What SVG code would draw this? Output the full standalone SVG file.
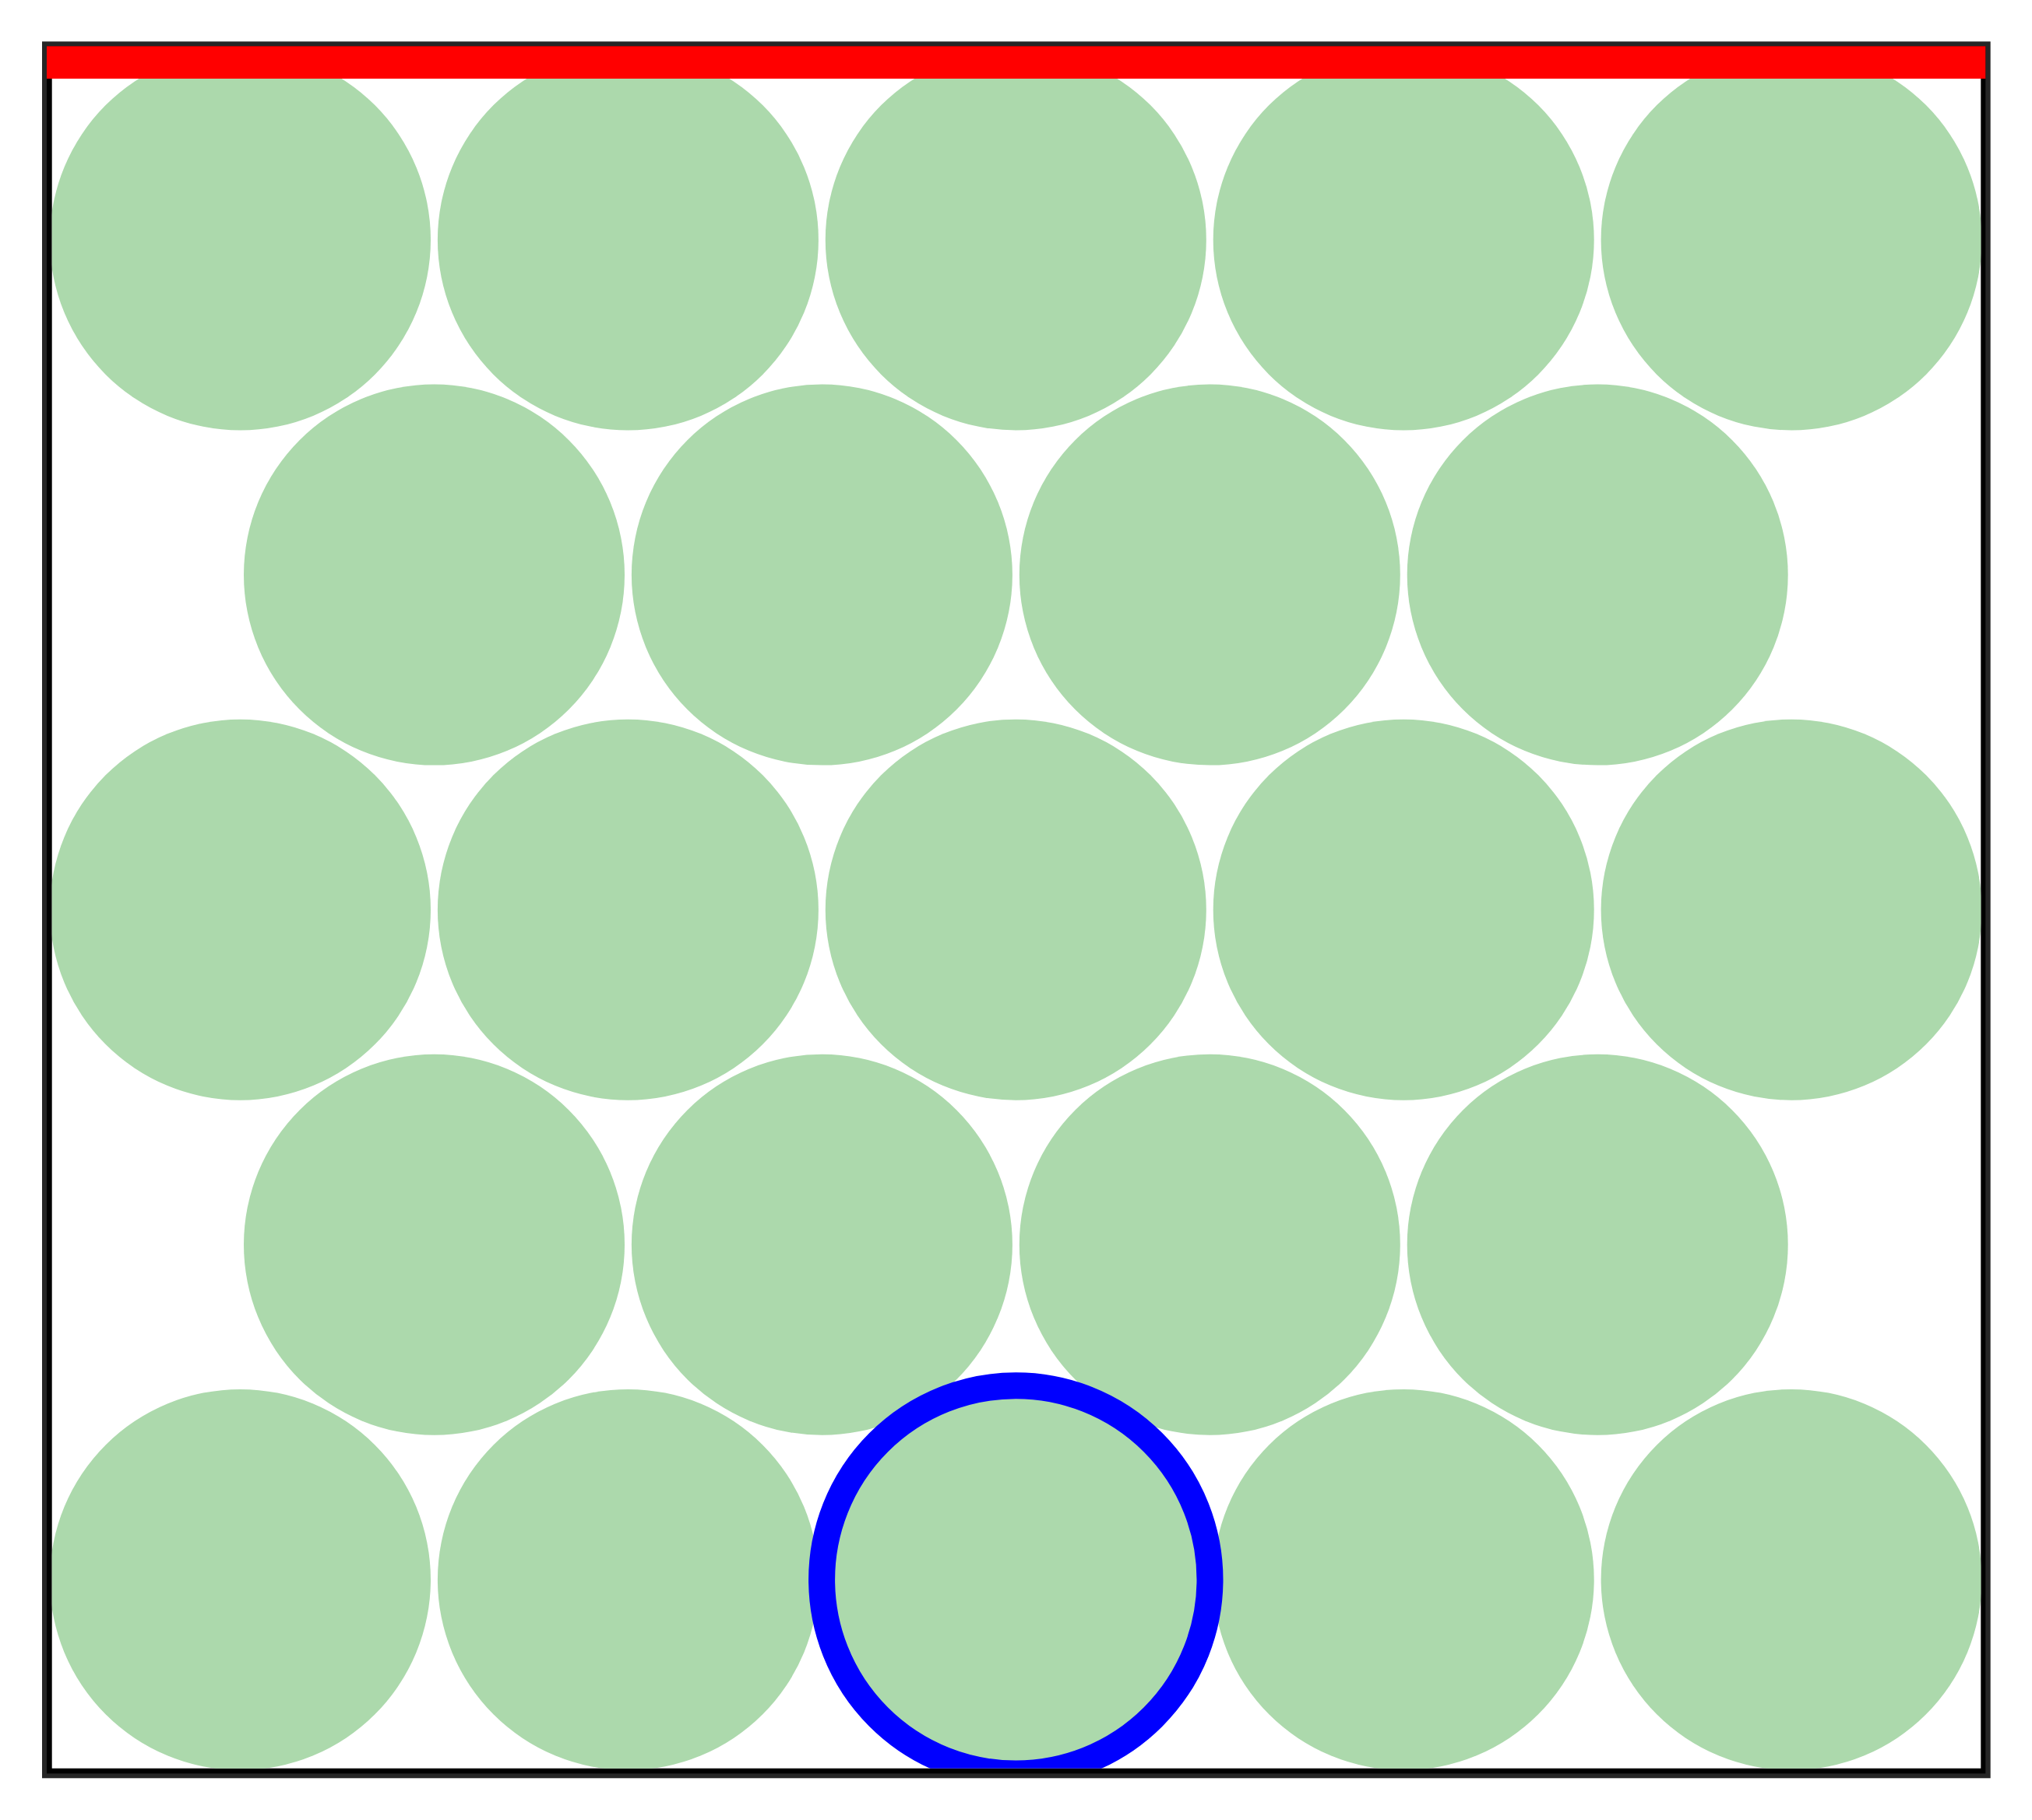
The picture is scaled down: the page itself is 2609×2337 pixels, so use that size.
<svg xmlns="http://www.w3.org/2000/svg" width="2609" height="2337" viewBox="0 0 2609 2337">
  <style>
    .p { fill: #acd9ac; }
    .sel { fill: none; stroke: #0000ff; stroke-width: 34; }
  </style>
  <defs>
    <clipPath id="box">
      <rect x="66.7" y="59.3" width="2476.6" height="2211.4"/>
    </clipPath>
  </defs>
  <rect width="2609" height="2337" fill="#ffffff"/>
  <g id="frame">
    <rect x="54" y="53.3" width="2501.7" height="2230" fill="#262626"/>
    <rect x="60" y="59.3" width="2489.3" height="2218" fill="#000000"/>
    <rect x="66.7" y="66" width="2476.6" height="2204.7" fill="#ffffff"/>
  </g>
  <g id="particles" clip-path="url(#box)">
    <g id="row1">
      <circle id="p1" class="p" cx="308.5" cy="308" r="244.5"/>
      <circle id="p2" class="p" cx="806.4" cy="308" r="244.5"/>
      <circle id="p3" class="p" cx="1304.3" cy="308" r="244.5"/>
      <circle id="p4" class="p" cx="1802.2" cy="308" r="244.5"/>
      <circle id="p5" class="p" cx="2300.1" cy="308" r="244.5"/>
    </g>
    <g id="row2">
      <circle id="p6" class="p" cx="557.5" cy="738.1" r="244.5"/>
      <circle id="p7" class="p" cx="1055.4" cy="738.1" r="244.5"/>
      <circle id="p8" class="p" cx="1553.3" cy="738.1" r="244.5"/>
      <circle id="p9" class="p" cx="2051.2" cy="738.1" r="244.5"/>
    </g>
    <g id="row3">
      <circle id="p10" class="p" cx="308.5" cy="1168.2" r="244.5"/>
      <circle id="p11" class="p" cx="806.4" cy="1168.2" r="244.5"/>
      <circle id="p12" class="p" cx="1304.3" cy="1168.2" r="244.5"/>
      <circle id="p13" class="p" cx="1802.2" cy="1168.2" r="244.5"/>
      <circle id="p14" class="p" cx="2300.1" cy="1168.2" r="244.5"/>
    </g>
    <g id="row4">
      <circle id="p15" class="p" cx="557.5" cy="1598.3" r="244.5"/>
      <circle id="p16" class="p" cx="1055.4" cy="1598.3" r="244.5"/>
      <circle id="p17" class="p" cx="1553.3" cy="1598.3" r="244.5"/>
      <circle id="p18" class="p" cx="2051.2" cy="1598.3" r="244.5"/>
    </g>
    <g id="row5">
      <circle id="p19" class="p" cx="308.5" cy="2028.4" r="244.5"/>
      <circle id="p20" class="p" cx="806.4" cy="2028.4" r="244.5"/>
      <circle id="p21" class="p" cx="1304.3" cy="2028.4" r="244.5"/>
      <circle id="p22" class="p" cx="1802.2" cy="2028.4" r="244.5"/>
      <circle id="p23" class="p" cx="2300.1" cy="2028.4" r="244.5"/>
    </g>
    <g id="selected">
      <circle class="sel" cx="1304.3" cy="2028.4" r="249.2"/>
    </g>
  </g>
  <g id="wall">
    <rect x="60" y="59.3" width="2489.3" height="41.7" fill="#ff0000"/>
  </g>
</svg>
